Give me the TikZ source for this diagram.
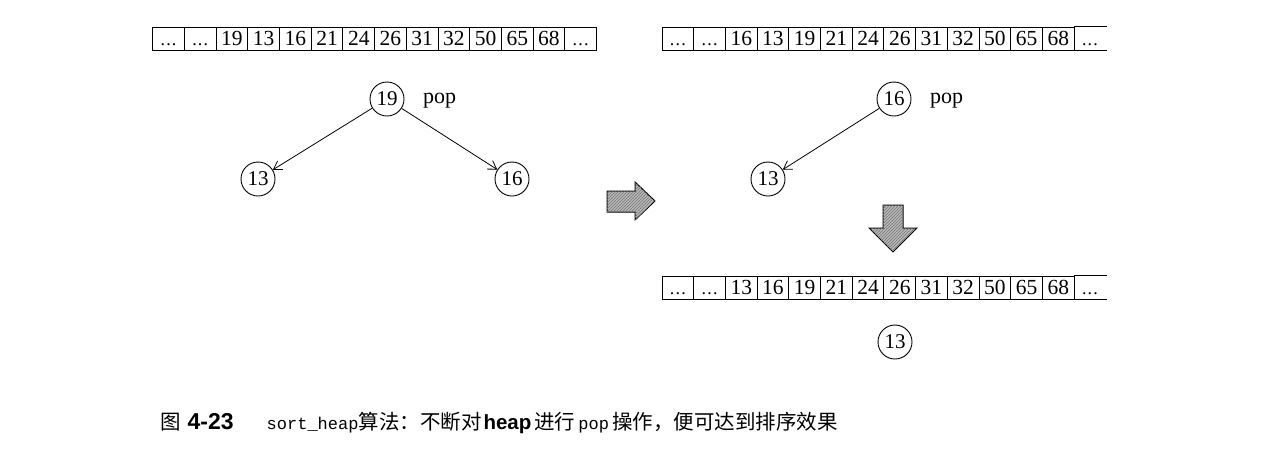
\documentclass[tikz,border=0pt]{standalone}
\usepackage{fontspec}
\setmainfont{Liberation Serif}
\setsansfont{Liberation Sans}
\setmonofont{Liberation Mono}
\newfontfamily\cjk{Noto Sans CJK SC}
\usetikzlibrary{arrows.meta,patterns}
\newcommand{\dts}{{\fontsize{18}{20}\selectfont.\kern1.2pt.\kern1.2pt.}}
\begin{document}
\begin{tikzpicture}[x=1pt,y=-1pt,
  cell/.style={draw,line width=0.9pt,minimum width=31.7pt,minimum height=23pt,inner sep=0pt,text height=14pt,text depth=0pt,font=\fontsize{21.5}{24}\selectfont},
  opencell/.style={minimum width=31.7pt,minimum height=23pt,inner sep=0pt,text height=14pt,text depth=0pt,font=\fontsize{21.5}{24}\selectfont},
  circ/.style={circle,draw,line width=0.9pt,minimum size=34pt,inner sep=0pt,font=\fontsize{21}{24}\selectfont},
  lbl/.style={inner sep=0pt,font=\fontsize{22}{24}\selectfont},
  edge/.style={line width=0.8pt,-{Straight Barb[length=8pt,width=10pt]}},
  bigarrow/.style={draw=black,line width=1pt,fill=gray!55,postaction={pattern=north east lines,pattern color=black!55}}]
\useasboundingbox (0,0) rectangle (1265,459);

% left array
\foreach \t [count=\i] in {\dts,\dts,19,13,16,21,24,26,31,32,50,65,68,\dts}
  \node[cell] (a\i) at ({152.7+31.7*(\i-0.5)},38.5) {\t};

% right top array
\foreach \t [count=\i] in {\dts,\dts,16,13,19,21,24,26,31,32,50,65,68}
  \node[cell] (b\i) at ({662+31.7*(\i-0.5)},38.5) {\t};
\node[opencell] (b14) at ({662+31.7*13.5},38.5) {\dts};
\draw[line width=0.9pt] (b14.north west) -- ++(33,0) (b14.south west) -- ++(33,0);

% bottom array
\foreach \t [count=\i] in {\dts,\dts,13,16,19,21,24,26,31,32,50,65,68}
  \node[cell] (c\i) at ({662+31.7*(\i-0.5)},287.5) {\t};
\node[opencell] (c14) at ({662+31.7*13.5},287.5) {\dts};
\draw[line width=0.9pt] (c14.north west) -- ++(33,0) (c14.south west) -- ++(33,0);

% left tree
\node[circ] (l19) at (387,99) {19};
\node[lbl,anchor=west] (lpop) at (423,101) {pop};
\node[circ] (l13) at (258,179) {13};
\node[circ] (l16) at (512,179) {16};
\draw[edge] (l19) -- (l13);
\draw[edge] (l19) -- (l16);

% right tree
\node[circ] (r16) at (894,99) {16};
\node[lbl,anchor=west] (rpop) at (930,101) {pop};
\node[circ] (r13) at (768,179) {13};
\draw[edge] (r16) -- (r13);

% bottom popped element
\node[circ] (s13) at (895,342) {13};

% big arrows
\path[bigarrow] (607,191) -- (635,191) -- (635,182) -- (655,201) -- (635,220) -- (635,212) -- (607,212) -- cycle;
\path[bigarrow] (883,205) -- (903,205) -- (903,228) -- (917,228) -- (893,252) -- (869,228) -- (883,228) -- cycle;

% caption
\node[anchor=west,inner sep=0pt] (cap) at (160,423) {\fontsize{20.5}{24}\selectfont{\cjk 图}\hspace{7pt}{\fontsize{23}{24}\selectfont\sffamily\bfseries 4-23}\hspace{33pt}{\fontsize{17}{20}\selectfont\ttfamily sort\_heap}{\cjk 算法：不断对}\hspace{2pt}{\sffamily\bfseries heap}\hspace{3pt}{\cjk 进行}\hspace{3pt}{\fontsize{17}{20}\selectfont\ttfamily pop}\hspace{3pt}{\cjk 操作，便可达到排序效果}};
\end{tikzpicture}
\end{document}
